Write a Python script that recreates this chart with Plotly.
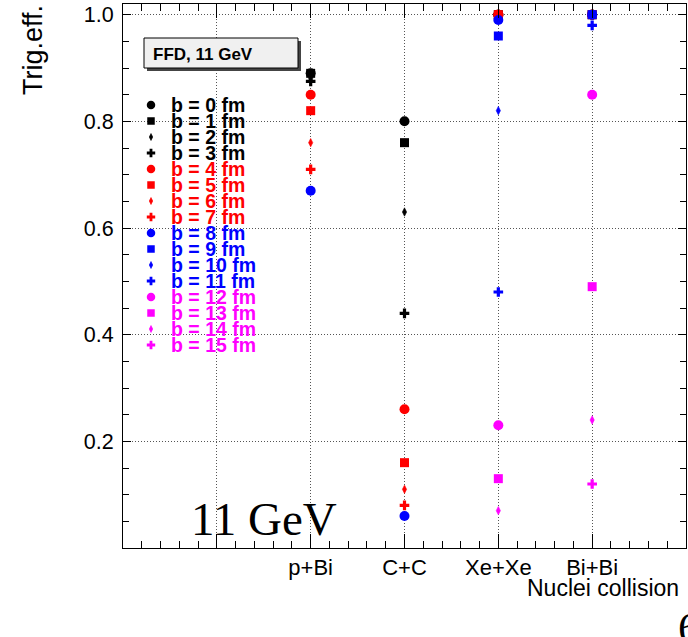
import plotly.graph_objects as go

# ---------------- data ----------------
collisions = ['p+Bi', 'C+C', 'Xe+Xe', 'Bi+Bi']
collision_pos = [1, 2, 3, 4]
impact_b = list(range(16))

eff_b0 = [0.89, 0.80, 1.00, 1.00]
eff_b1 = [0.89, 0.76, 1.00, 1.00]
eff_b2 = [0.88, 0.63, 1.00, 1.00]
eff_b3 = [0.875, 0.44, 1.00, 1.00]
eff_b4 = [0.85, 0.26, 1.00, 1.00]
eff_b5 = [0.82, 0.16, 1.00, 1.00]
eff_b6 = [0.76, 0.11, 1.00, 1.00]
eff_b7 = [0.71, 0.08, 1.00, 1.00]
eff_b8 = [0.67, 0.06, 0.99, 1.00]
eff_b9 = [None, None, 0.96, 1.00]
eff_b10 = [None, None, 0.82, 1.00]
eff_b11 = [None, None, 0.48, 0.98]
eff_b12 = [None, None, 0.23, 0.85]
eff_b13 = [None, None, 0.13, 0.49]
eff_b14 = [None, None, 0.07, 0.24]
eff_b15 = [None, None, None, 0.12]

efficiencies = [eff_b0, eff_b1, eff_b2, eff_b3, eff_b4, eff_b5, eff_b6, eff_b7,
                eff_b8, eff_b9, eff_b10, eff_b11, eff_b12, eff_b13, eff_b14, eff_b15]

y_tick_vals = [0.2, 0.4, 0.6, 0.8, 1.0]
y_tick_text = ['0.2', '0.4', '0.6', '0.8', '1.0']

# ---------------- styles ----------------
group_colors = ['black', '#ff0000', '#0000ff', '#ff00ff']
symbol_cycle = ['circle', 'square', 'diamond-tall', 'cross']
plot_size = {'circle': 10, 'square': 9, 'diamond-tall': 6, 'cross': 8}
leg_size = {'circle': 8.5, 'square': 7.5, 'diamond-tall': 5, 'cross': 7}

W, H = 688, 637
L, R, T, B = 123, 686, 4, 548


def px2x(px):
    return (px - L) / (R - L)


def py2y(py):
    return (B - py) / (B - T)


fig = go.Figure()

for i, b in enumerate(impact_b):
    col = group_colors[i // 4]
    sym = symbol_cycle[i % 4]
    fig.add_trace(go.Scatter(
        x=collision_pos, y=efficiencies[i], mode='markers',
        marker=dict(symbol=sym, size=plot_size[sym], color=col,
                    line=dict(width=0.6 if sym == 'diamond-tall' else 0, color=col)),
        name=f'b = {b} fm', showlegend=False, cliponaxis=False))

# manual legend (ROOT style) on a pixel overlay axis
leg_x_marker = 151
leg_x_text = 169
leg_y0 = 105
leg_dy = 16
for i, b in enumerate(impact_b):
    col = group_colors[i // 4]
    sym = symbol_cycle[i % 4]
    yy = leg_y0 + i * leg_dy
    fig.add_trace(go.Scatter(
        x=[leg_x_marker], y=[yy], xaxis='x2', yaxis='y2', mode='markers',
        marker=dict(symbol=sym, size=leg_size[sym], color=col,
                    line=dict(width=0.6 if sym == 'diamond-tall' else 0, color=col)),
        showlegend=False, hoverinfo='skip', cliponaxis=False))
    fig.add_annotation(
        x=px2x(leg_x_text), y=py2y(yy), xref='paper', yref='paper',
        text=f'<b>b = {b} fm</b>', showarrow=False, xanchor='left', yanchor='middle',
        font=dict(family='Liberation Sans, Arial', size=19.5, color=col))

grid_dash = '1px,2px'
grid_col = '#555555'

fig.update_layout(
    width=W, height=H,
    margin=dict(l=L, r=W - R, t=T, b=H - B, autoexpand=False),
    plot_bgcolor='white', paper_bgcolor='white', showlegend=False,
    xaxis=dict(range=[-1, 5], tickmode='array', tickvals=[0] + collision_pos,
               ticktext=[''] + collisions, ticks='inside', ticklen=14, tickwidth=1,
               tickcolor='black', showline=True, linecolor='black', linewidth=1,
               mirror='ticks', showgrid=True, gridcolor=grid_col, griddash=grid_dash,
               gridwidth=1, zeroline=False,
               tickfont=dict(family='Liberation Sans, Arial', size=22, color='black'),
               minor=dict(tickmode='linear', tick0=0, dtick=0.2, ticks='inside',
                          ticklen=7, tickcolor='black', showgrid=False)),
    yaxis=dict(range=[0, 1.02], tickmode='array', tickvals=y_tick_vals,
               ticktext=y_tick_text, ticks='inside', ticklen=8, tickwidth=1,
               tickcolor='black', showline=True, linecolor='black', linewidth=1,
               mirror='ticks', showgrid=True, gridcolor=grid_col, griddash=grid_dash,
               gridwidth=1, zeroline=False, ticklabelstandoff=4,
               tickfont=dict(family='Liberation Sans, Arial', size=21.5, color='black'),
               minor=dict(tickmode='linear', tick0=0, dtick=0.05, ticks='inside',
                          ticklen=6, tickcolor='black', showgrid=False)),
    xaxis2=dict(range=[L, R], overlaying='x', visible=False, fixedrange=True),
    yaxis2=dict(range=[B, T], overlaying='y', visible=False, fixedrange=True),
)

# FFD box with shadow
fig.add_shape(type='rect', xref='paper', yref='paper',
              x0=px2x(147), x1=px2x(301), y0=py2y(41), y1=py2y(71),
              fillcolor='#444444', line=dict(width=0), layer='above')
fig.add_shape(type='rect', xref='paper', yref='paper',
              x0=px2x(144), x1=px2x(298), y0=py2y(38), y1=py2y(68),
              fillcolor='#f0f0f0', line=dict(width=1, color='black'), layer='above')
fig.add_annotation(x=px2x(151), y=py2y(54), xref='paper', yref='paper',
                   text='<b>FFD, 11 GeV</b>', showarrow=False, xanchor='left', yanchor='middle',
                   font=dict(family='Liberation Sans, Arial', size=17, color='black'))

# big energy label
fig.add_annotation(x=px2x(189), y=py2y(519), xref='paper', yref='paper',
                   text='11 GeV', showarrow=False, xanchor='left', yanchor='middle',
                   font=dict(family='Liberation Serif, Times New Roman', size=47, color='black'))

# axis titles
fig.add_annotation(x=px2x(681), y=py2y(588), xref='paper', yref='paper',
                   text='Nuclei collision', showarrow=False, xanchor='right', yanchor='middle',
                   font=dict(family='Liberation Sans, Arial', size=23, color='black'))
fig.add_annotation(x=px2x(33), y=py2y(50), xref='paper', yref='paper',
                   text='Trig.eff.', showarrow=False, textangle=-90,
                   xanchor='center', yanchor='middle',
                   font=dict(family='Liberation Sans, Arial', size=27, color='black'))

# clipped page number at the bottom right
fig.add_annotation(x=px2x(676), y=py2y(628), xref='paper', yref='paper',
                   text='6', showarrow=False, xanchor='left', yanchor='middle',
                   font=dict(family='Liberation Serif, Times New Roman', size=44, color='black'))

fig.write_html('out.html')
